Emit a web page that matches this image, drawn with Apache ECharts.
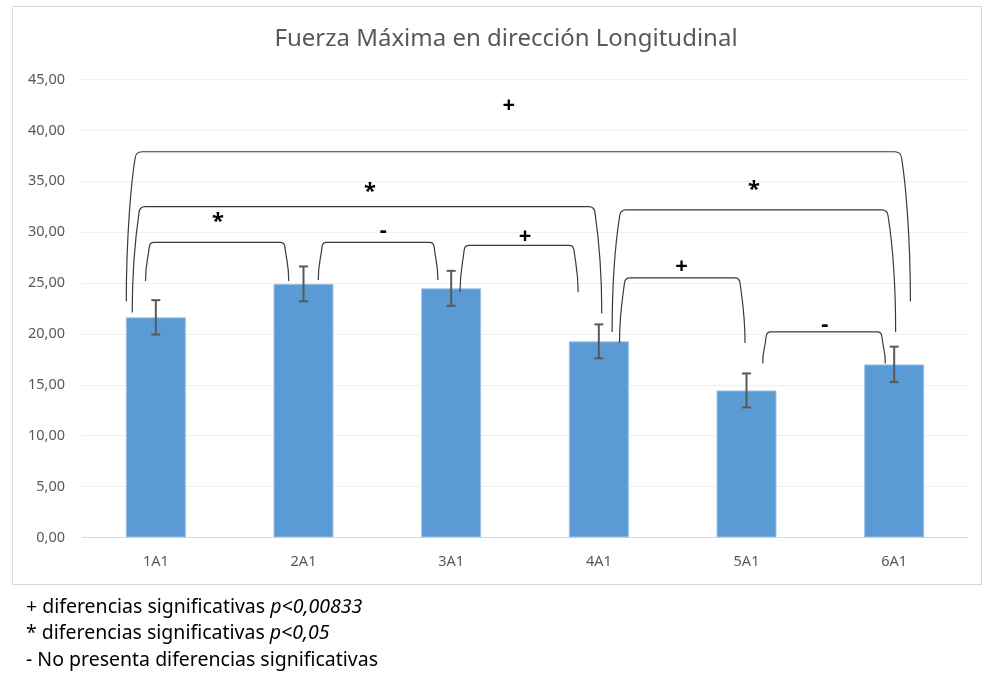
<!DOCTYPE html>
<html>
<head>
<meta charset="utf-8">
<script src="https://cdn.jsdelivr.net/npm/echarts@6/dist/echarts.min.js"></script>
<style>
  html, body { margin: 0; padding: 0; background: #fff; }
  #chart { width: 984px; height: 680px; }
</style>
</head>
<body>
<div id="chart"></div>
<script>
  var categories = ['1A1', '2A1', '3A1', '4A1', '5A1', '6A1'];
  var means = [21.63, 24.92, 24.48, 19.27, 14.45, 17.01];
  var errors = [1.69, 1.71, 1.72, 1.67, 1.67, 1.74];

  // bracket legs as fractional category positions, heights in axis units
  var bracketLeft = [-0.20, -0.16, -0.07, 1.10, 2.06, 3.14, 3.09, 4.11];
  var bracketRight = [5.11, 3.02, 0.90, 1.91, 2.86, 3.99, 5.01, 4.94];
  var bracketTop = [37.9, 32.5, 29.0, 29.0, 28.7, 25.5, 32.2, 20.2];
  var bracketFootL = [23.2, 22.1, 25.2, 25.3, 24.1, 19.1, 20.2, 17.1];
  var bracketFootR = [23.2, 22.0, 25.2, 25.3, 24.1, 19.1, 20.2, 17.1];
  var bracketMark = ['+', '*', '*', '-', '+', '+', '*', '-'];
  var bracketMarkX = [2.39, 1.45, 0.42, 1.54, 2.50, 3.56, 4.05, 4.53];
  var bracketMarkY = [42.4, 34.0, 31.0, 30.1, 29.6, 26.6, 34.2, 20.9];

  var notes = [
    ['+ diferencias significativas ', 'p<0,00833'],
    ['* diferencias significativas ', 'p<0,05'],
    ['- No presenta diferencias significativas', '']
  ];

  var chartDom = document.getElementById('chart');
  var myChart = echarts.init(chartDom);

  var fontFam = '"Noto Sans", sans-serif';

  var noteElems = notes.map(function (n, i) {
    return {
      type: 'text',
      left: 26,
      top: 597 + i * 26.5,
      style: {
        text: '{a|' + n[0] + '}' + (n[1] ? '{b|' + n[1] + '}' : ''),
        rich: {
          a: { fontSize: 19.5, fontFamily: fontFam, fill: '#000' },
          b: { fontSize: 19.5, fontFamily: fontFam, fontStyle: 'italic', fill: '#000' }
        }
      }
    };
  });

  var option = {
    animation: false,
    backgroundColor: '#fff',
    title: {
      text: 'Fuerza Máxima en dirección Longitudinal',
      left: 501,
      textAlign: 'center',
      top: 22,
      textStyle: { fontFamily: fontFam, fontWeight: 'normal', fontSize: 24, color: '#595959' }
    },
    grid: { left: 82, right: 16, top: 79.5, bottom: 142.5 },
    graphic: [
      {
        type: 'rect',
        shape: { x: 12.5, y: 6.5, width: 969, height: 578 },
        style: { fill: 'none', stroke: '#d9d9d9', lineWidth: 1 }
      }
    ].concat(noteElems),
    xAxis: {
      type: 'category',
      data: categories,
      axisTick: { show: false },
      axisLine: { lineStyle: { color: '#d9d9d9' } },
      axisLabel: { color: '#595959', fontSize: 14.5, fontFamily: fontFam, margin: 17 }
    },
    yAxis: {
      type: 'value',
      min: 0,
      max: 45,
      interval: 5,
      axisLine: { show: false },
      axisTick: { show: false },
      splitLine: { lineStyle: { color: '#efefef' } },
      axisLabel: {
        color: '#595959', fontSize: 14.5, fontFamily: fontFam, margin: 17,
        formatter: function (v) { return v.toFixed(2).replace('.', ','); }
      }
    },
    series: [
      {
        type: 'bar',
        data: means,
        barWidth: 60,
        itemStyle: { color: '#5b9bd5', borderColor: '#9dc3e6', borderWidth: 1 }
      },
      {
        type: 'custom',
        data: means.map(function (m, i) { return [i, m - errors[i], m + errors[i]]; }),
        encode: { x: 0, y: [1, 2] },
        z: 5,
        renderItem: function (params, api) {
          var lo = api.coord([api.value(0), api.value(1)]);
          var hi = api.coord([api.value(0), api.value(2)]);
          var w = 4.5;
          var st = { stroke: '#595959', lineWidth: 2 };
          return {
            type: 'group',
            children: [
              { type: 'line', shape: { x1: hi[0], y1: hi[1], x2: lo[0], y2: lo[1] }, style: st },
              { type: 'line', shape: { x1: hi[0] - w, y1: hi[1], x2: hi[0] + w, y2: hi[1] }, style: st },
              { type: 'line', shape: { x1: lo[0] - w, y1: lo[1], x2: lo[0] + w, y2: lo[1] }, style: st }
            ]
          };
        }
      },
      {
        type: 'custom',
        data: bracketTop.map(function (t) { return [0, t]; }),
        encode: { x: 0, y: 1 },
        z: 6,
        renderItem: function (params, api) {
          var i = params.dataIndex;
          var band = api.size([1, 0])[0];
          var x0 = api.coord([0, 0])[0];
          var xl = x0 + bracketLeft[i] * band;
          var xr = x0 + bracketRight[i] * band;
          var yt = api.coord([0, bracketTop[i]])[1];
          var yl = api.coord([0, bracketFootL[i]])[1];
          var yr = api.coord([0, bracketFootR[i]])[1];
          var h = Math.max(yl, yr) - yt;
          var s = 2 + h * 0.045;
          var r = 4 + h * 0.02;
          var d = 'M' + xl + ',' + yl +
            ' C' + xl + ',' + (yl - h * 0.45) + ' ' + (xl + s * 0.6) + ',' + (yt + r * 4) + ' ' + (xl + s) + ',' + (yt + r) +
            ' Q' + (xl + s + 0.5) + ',' + yt + ' ' + (xl + s + r) + ',' + yt +
            ' L' + (xr - s - r) + ',' + yt +
            ' Q' + (xr - s - 0.5) + ',' + yt + ' ' + (xr - s) + ',' + (yt + r) +
            ' C' + (xr - s * 0.6) + ',' + (yt + r * 4) + ' ' + xr + ',' + (yr - h * 0.45) + ' ' + xr + ',' + yr;
          var ym = api.coord([0, bracketMarkY[i]])[1];
          var xm = x0 + bracketMarkX[i] * band;
          return {
            type: 'group',
            children: [
              {
                type: 'path',
                shape: { pathData: d },
                style: { fill: 'none', stroke: '#3a3a3a', lineWidth: 1.2 }
              },
              {
                type: 'text',
                x: xm,
                y: ym,
                style: {
                  text: bracketMark[i],
                  textAlign: 'center',
                  textVerticalAlign: 'middle',
                  fontSize: 22,
                  fontWeight: 'bold',
                  fontFamily: fontFam,
                  fill: '#000'
                }
              }
            ]
          };
        }
      }
    ]
  };

  myChart.setOption(option);
</script>
</body>
</html>
